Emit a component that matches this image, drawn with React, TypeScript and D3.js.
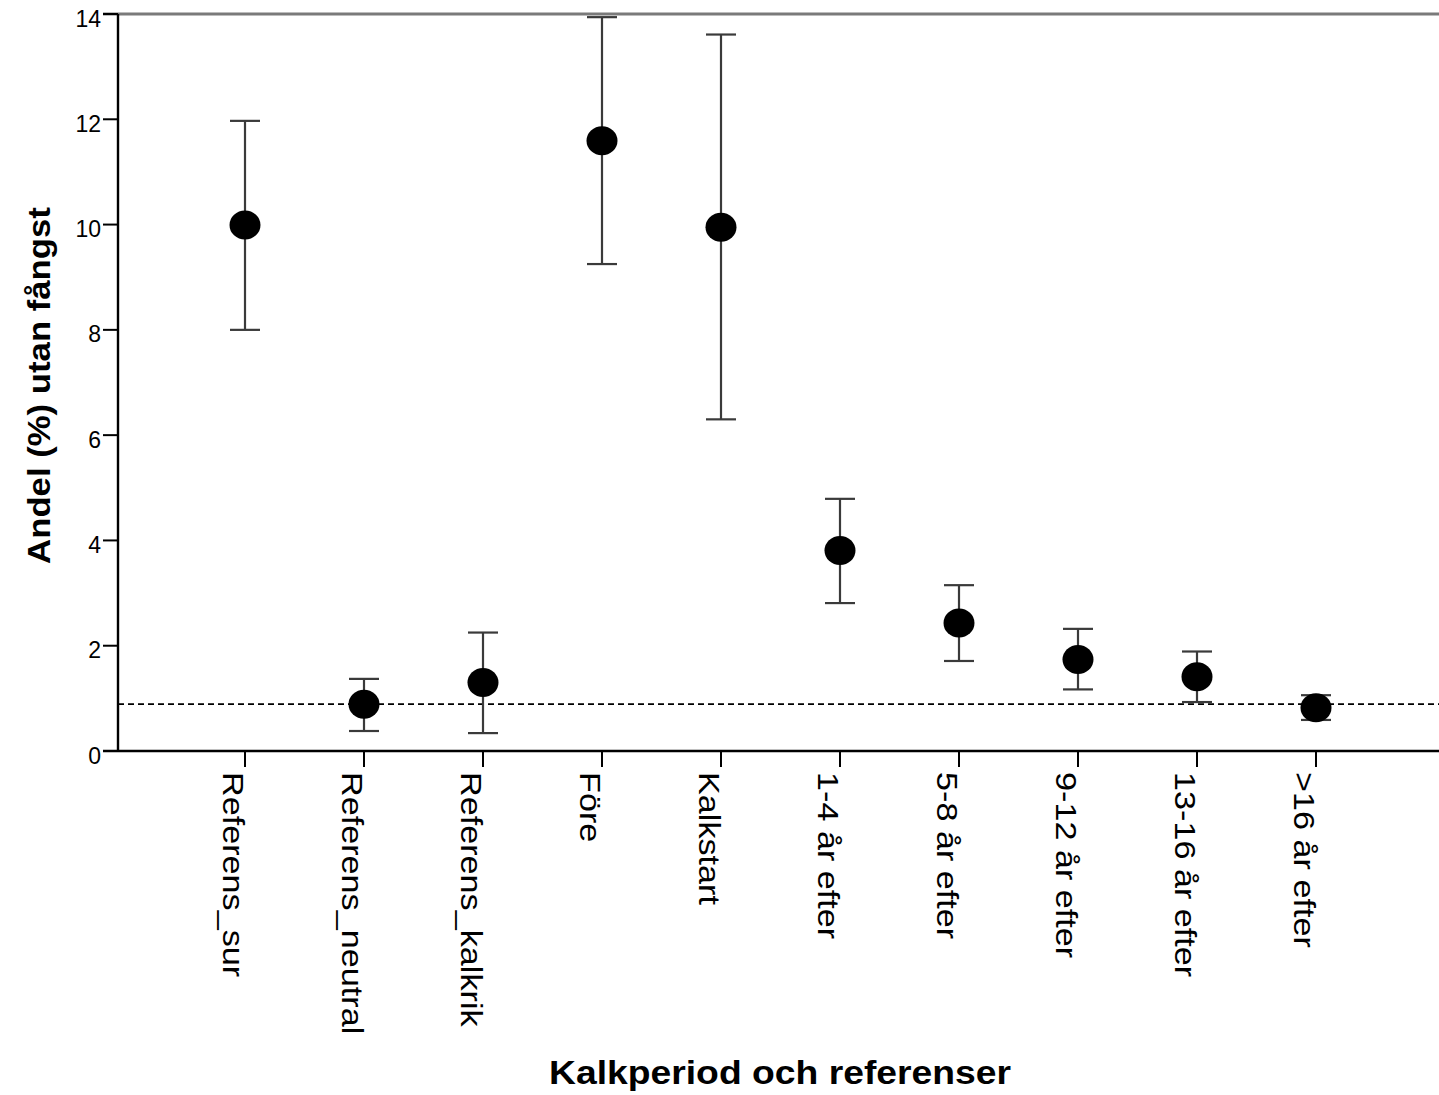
import React from "react";
import * as d3 from "d3";

const categories = [
  "Referens_sur",
  "Referens_neutral",
  "Referens_kalkrik",
  "Före",
  "Kalkstart",
  "1-4 år efter",
  "5-8 år efter",
  "9-12 år efter",
  "13-16 år efter",
  ">16 år efter",
];
const means = [9.99, 0.89, 1.3, 11.59, 9.95, 3.81, 2.43, 1.74, 1.41, 0.82];
const lowerCI = [8.0, 0.38, 0.34, 9.25, 6.3, 2.81, 1.71, 1.17, 0.93, 0.59];
const upperCI = [11.97, 1.37, 2.25, 13.94, 13.61, 4.79, 3.15, 2.32, 1.89, 1.06];
const yTicks = [0, 2, 4, 6, 8, 10, 12, 14];
const referenceLine = 0.89;
const yTitle = "Andel (%) utan fångst";
const xTitle = "Kalkperiod och referenser";

const W = 1439;
const H = 1095;
const FONT = "'Liberation Sans', Arial, Helvetica, sans-serif";

export default function App() {
  const x = d3.scalePoint<string>().domain(categories).range([245, 1316]);
  const y = d3.scaleLinear().domain([0, 14]).range([751, 14]);
  const axisX = 118;
  const cap = 15;

  return (
    <svg
      width={W}
      height={H}
      style={{ position: "absolute", left: 0, top: 0, background: "#fff" }}
      fontFamily={FONT}
    >
      <rect x={0} y={0} width={W} height={H} fill="#fff" />
      {/* top frame line */}
      <line x1={103} x2={W} y1={y(14)} y2={y(14)} stroke="#7a7a7a" strokeWidth={3} />
      {/* reference dashed line */}
      <line
        x1={axisX}
        x2={W}
        y1={y(referenceLine)}
        y2={y(referenceLine)}
        stroke="#000"
        strokeWidth={1.6}
        strokeDasharray="6 4"
      />
      {/* y axis */}
      <line x1={axisX} x2={axisX} y1={y(14)} y2={y(0)} stroke="#000" strokeWidth={2.4} />
      {yTicks.map((t) => (
        <g key={t}>
          <line x1={103} x2={axisX} y1={y(t)} y2={y(t)} stroke="#000" strokeWidth={2} />
          <text x={101} y={y(t) + 12.5} textAnchor="end" fontSize={23} fill="#000">
            {t}
          </text>
        </g>
      ))}
      {/* x axis */}
      <line x1={103} x2={W} y1={y(0)} y2={y(0)} stroke="#000" strokeWidth={2.4} />
      {categories.map((c) => (
        <g key={c}>
          <line x1={x(c)} x2={x(c)} y1={y(0)} y2={y(0) + 16} stroke="#000" strokeWidth={2} />
          <text
            transform={`translate(${x(c)},772) rotate(90) scale(1.14,1)`}
            x={0}
            y={21.5}
            fontSize={30}
            fill="#000"
          >
            {c}
          </text>
        </g>
      ))}
      {/* error bars */}
      {categories.map((c, i) => {
        const cx = x(c) as number;
        return (
          <g key={"eb" + c} stroke="#3a3a3a" strokeWidth={2.2}>
            <line x1={cx} x2={cx} y1={y(upperCI[i])} y2={y(lowerCI[i])} />
            <line x1={cx - cap} x2={cx + cap} y1={y(upperCI[i])} y2={y(upperCI[i])} />
            <line x1={cx - cap} x2={cx + cap} y1={y(lowerCI[i])} y2={y(lowerCI[i])} />
          </g>
        );
      })}
      {categories.map((c, i) => (
        <ellipse key={"pt" + c} cx={x(c)} cy={y(means[i])} rx={15.5} ry={14.5} fill="#000" />
      ))}
      {/* axis titles */}
      <text
        transform={`translate(50,385.5) rotate(-90) scale(1.12,1)`}
        textAnchor="middle"
        fontSize={31}
        fontWeight="bold"
        fill="#000"
      >
        {yTitle}
      </text>
      <text
        transform={`translate(780,1084) scale(1.13,1)`}
        textAnchor="middle"
        fontSize={33}
        fontWeight="bold"
        fill="#000"
      >
        {xTitle}
      </text>
    </svg>
  );
}
